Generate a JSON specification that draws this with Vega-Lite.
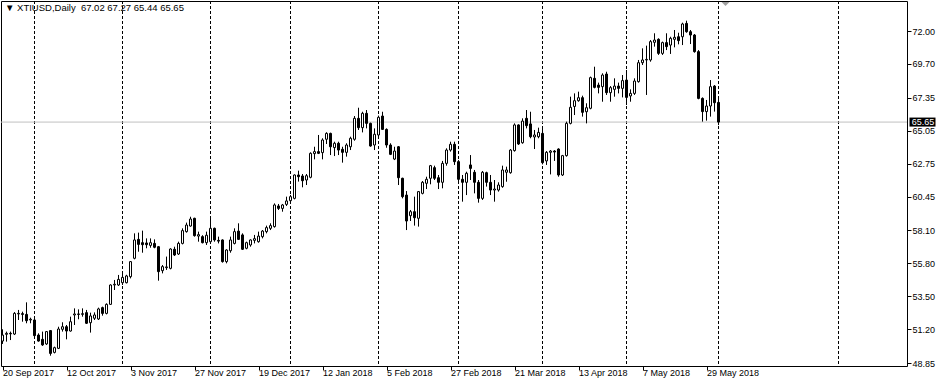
{
  "$schema": "https://vega.github.io/schema/vega-lite/v6.json",
  "width": 906,
  "height": 365,
  "autosize": {"type": "none"},
  "padding": {"left": 1, "top": 1, "right": 37, "bottom": 14},
  "background": "white",
  "title": {"text": "▼ XTIUSD,Daily\u00a0 67.02 67.27 65.44 65.65", "anchor": "start", "orient": "top", "frame": "group", "offset": -12, "dx": 4, "font": "Liberation Sans", "fontSize": 9.5, "fontWeight": "normal", "color": "black"},
  "config": {
    "view": {"stroke": "black", "strokeWidth": 1},
    "axis": {"labelFont": "Liberation Sans", "labelFontSize": 9, "labelColor": "black", "tickColor": "black", "domain": false, "grid": false}
  },
  "datasets": {
    "seps": [{"i": 8}, {"i": 30}, {"i": 52}, {"i": 72}, {"i": 94}, {"i": 114}, {"i": 135}, {"i": 156}, {"i": 179}, {"i": 209}],
    "bid": [{"p": 65.65}],
    "one": [{}],
    "candles": [
      {"i":0,"o":50.38,"h":51.20,"l":50.18,"c":50.80},
      {"i":1,"o":50.85,"h":51.04,"l":50.34,"c":50.92},
      {"i":2,"o":50.92,"h":51.04,"l":50.45,"c":50.88},
      {"i":3,"o":50.87,"h":52.40,"l":50.80,"c":52.31},
      {"i":4,"o":52.27,"h":52.55,"l":51.85,"c":52.31},
      {"i":5,"o":52.29,"h":52.43,"l":51.73,"c":52.24},
      {"i":6,"o":52.24,"h":53.08,"l":51.62,"c":51.80},
      {"i":7,"o":51.85,"h":52.01,"l":51.62,"c":51.90},
      {"i":8,"o":51.85,"h":51.97,"l":50.69,"c":50.76},
      {"i":9,"o":50.80,"h":50.92,"l":50.34,"c":50.38},
      {"i":10,"o":50.50,"h":51.04,"l":50.04,"c":50.11},
      {"i":11,"o":50.18,"h":51.08,"l":50.11,"c":51.04},
      {"i":12,"o":51.11,"h":51.15,"l":49.36,"c":49.52},
      {"i":13,"o":49.59,"h":49.99,"l":49.52,"c":49.92},
      {"i":14,"o":49.87,"h":51.38,"l":49.83,"c":51.22},
      {"i":15,"o":51.20,"h":51.69,"l":51.04,"c":51.38},
      {"i":16,"o":51.38,"h":51.50,"l":50.50,"c":51.08},
      {"i":17,"o":51.08,"h":52.08,"l":51.04,"c":51.73},
      {"i":18,"o":52.20,"h":52.66,"l":51.50,"c":52.27},
      {"i":19,"o":52.27,"h":52.59,"l":51.90,"c":52.24},
      {"i":20,"o":52.24,"h":52.66,"l":52.08,"c":52.29},
      {"i":21,"o":52.36,"h":52.55,"l":51.57,"c":51.62},
      {"i":22,"o":51.66,"h":52.36,"l":50.97,"c":52.13},
      {"i":23,"o":51.97,"h":52.38,"l":51.85,"c":52.20},
      {"i":24,"o":51.92,"h":52.71,"l":51.85,"c":52.62},
      {"i":25,"o":52.71,"h":52.78,"l":52.15,"c":52.31},
      {"i":26,"o":52.31,"h":53.01,"l":52.24,"c":52.94},
      {"i":27,"o":52.94,"h":54.34,"l":52.90,"c":54.29},
      {"i":28,"o":54.29,"h":54.64,"l":53.94,"c":54.34},
      {"i":29,"o":54.29,"h":54.99,"l":54.22,"c":54.68},
      {"i":30,"o":54.45,"h":55.10,"l":54.29,"c":54.82},
      {"i":31,"o":54.45,"h":55.00,"l":54.40,"c":54.92},
      {"i":32,"o":54.87,"h":55.96,"l":54.75,"c":55.92},
      {"i":33,"o":56.15,"h":57.89,"l":56.08,"c":57.43},
      {"i":34,"o":57.47,"h":57.94,"l":56.61,"c":57.12},
      {"i":35,"o":57.24,"h":58.08,"l":56.54,"c":57.10},
      {"i":36,"o":57.22,"h":57.54,"l":56.85,"c":57.10},
      {"i":37,"o":57.05,"h":57.54,"l":56.89,"c":57.24},
      {"i":38,"o":57.19,"h":57.47,"l":56.85,"c":56.92},
      {"i":39,"o":56.96,"h":57.01,"l":54.59,"c":55.22},
      {"i":40,"o":55.29,"h":55.68,"l":55.10,"c":55.57},
      {"i":41,"o":55.50,"h":56.27,"l":55.34,"c":55.55},
      {"i":42,"o":55.45,"h":56.85,"l":55.38,"c":56.80},
      {"i":43,"o":56.78,"h":56.96,"l":56.31,"c":56.38},
      {"i":44,"o":56.45,"h":57.31,"l":56.38,"c":57.19},
      {"i":45,"o":57.19,"h":58.24,"l":57.12,"c":58.08},
      {"i":46,"o":58.01,"h":58.64,"l":57.94,"c":58.47},
      {"i":47,"o":58.40,"h":59.05,"l":58.36,"c":58.89},
      {"i":48,"o":58.94,"h":58.98,"l":57.66,"c":57.73},
      {"i":49,"o":57.70,"h":58.01,"l":57.31,"c":57.80},
      {"i":50,"o":57.66,"h":57.76,"l":57.19,"c":57.24},
      {"i":51,"o":57.24,"h":58.01,"l":57.08,"c":57.76},
      {"i":52,"o":57.31,"h":59.05,"l":57.19,"c":58.24},
      {"i":53,"o":58.24,"h":58.29,"l":57.31,"c":57.43},
      {"i":54,"o":57.40,"h":57.66,"l":57.19,"c":57.35},
      {"i":55,"o":57.43,"h":57.47,"l":55.85,"c":55.92},
      {"i":56,"o":55.92,"h":56.78,"l":55.80,"c":56.73},
      {"i":57,"o":56.68,"h":57.66,"l":56.54,"c":57.43},
      {"i":58,"o":57.19,"h":58.24,"l":57.12,"c":58.01},
      {"i":59,"o":58.05,"h":58.59,"l":57.43,"c":57.47},
      {"i":60,"o":57.78,"h":57.89,"l":56.73,"c":56.78},
      {"i":61,"o":56.85,"h":57.31,"l":56.78,"c":57.24},
      {"i":62,"o":57.08,"h":57.47,"l":56.96,"c":57.43},
      {"i":63,"o":57.40,"h":57.78,"l":57.19,"c":57.52},
      {"i":64,"o":57.31,"h":58.01,"l":57.24,"c":57.70},
      {"i":65,"o":57.66,"h":58.12,"l":57.54,"c":58.05},
      {"i":66,"o":58.01,"h":58.43,"l":57.89,"c":58.29},
      {"i":67,"o":58.24,"h":58.59,"l":58.12,"c":58.43},
      {"i":68,"o":58.36,"h":59.98,"l":58.29,"c":59.87},
      {"i":69,"o":59.80,"h":59.94,"l":59.52,"c":59.63},
      {"i":70,"o":59.63,"h":59.94,"l":59.40,"c":59.87},
      {"i":71,"o":59.91,"h":60.45,"l":59.80,"c":60.15},
      {"i":72,"o":60.17,"h":60.57,"l":60.10,"c":60.45},
      {"i":73,"o":60.33,"h":62.00,"l":60.26,"c":61.96},
      {"i":74,"o":61.96,"h":62.26,"l":61.50,"c":61.84},
      {"i":75,"o":61.89,"h":62.03,"l":61.10,"c":61.56},
      {"i":76,"o":61.61,"h":62.03,"l":61.26,"c":61.91},
      {"i":77,"o":61.80,"h":63.54,"l":61.73,"c":63.47},
      {"i":78,"o":63.45,"h":63.93,"l":63.05,"c":63.59},
      {"i":79,"o":63.59,"h":64.75,"l":63.42,"c":63.47},
      {"i":80,"o":63.52,"h":64.52,"l":63.05,"c":64.40},
      {"i":81,"o":64.45,"h":64.94,"l":64.12,"c":64.86},
      {"i":82,"o":64.86,"h":64.91,"l":63.35,"c":63.93},
      {"i":83,"o":63.87,"h":64.28,"l":63.28,"c":64.17},
      {"i":84,"o":64.17,"h":64.28,"l":63.35,"c":63.70},
      {"i":85,"o":63.75,"h":63.93,"l":62.82,"c":63.54},
      {"i":86,"o":63.54,"h":64.17,"l":63.24,"c":64.05},
      {"i":87,"o":63.93,"h":64.63,"l":63.70,"c":64.52},
      {"i":88,"o":64.45,"h":66.07,"l":64.35,"c":65.91},
      {"i":89,"o":65.91,"h":66.65,"l":65.10,"c":65.26},
      {"i":90,"o":65.26,"h":66.37,"l":64.93,"c":66.26},
      {"i":91,"o":66.26,"h":66.49,"l":65.21,"c":65.56},
      {"i":92,"o":65.56,"h":65.61,"l":63.93,"c":63.98},
      {"i":93,"o":64.05,"h":65.21,"l":63.70,"c":64.80},
      {"i":94,"o":64.75,"h":66.10,"l":64.63,"c":65.98},
      {"i":95,"o":66.07,"h":66.37,"l":65.10,"c":65.14},
      {"i":96,"o":65.14,"h":65.21,"l":63.86,"c":64.05},
      {"i":97,"o":64.05,"h":64.17,"l":63.35,"c":63.40},
      {"i":98,"o":63.07,"h":63.93,"l":63.00,"c":63.63},
      {"i":99,"o":63.93,"h":63.98,"l":61.26,"c":61.77},
      {"i":100,"o":61.73,"h":61.77,"l":60.33,"c":60.45},
      {"i":101,"o":60.56,"h":60.84,"l":58.12,"c":58.75},
      {"i":102,"o":59.12,"h":59.52,"l":58.75,"c":59.40},
      {"i":103,"o":59.40,"h":60.45,"l":58.43,"c":58.98},
      {"i":104,"o":58.94,"h":60.84,"l":58.36,"c":60.80},
      {"i":105,"o":60.68,"h":61.54,"l":60.61,"c":61.45},
      {"i":106,"o":61.38,"h":61.84,"l":60.98,"c":61.66},
      {"i":107,"o":61.73,"h":62.66,"l":61.31,"c":62.61},
      {"i":108,"o":62.47,"h":62.61,"l":61.61,"c":61.73},
      {"i":109,"o":61.77,"h":61.96,"l":60.98,"c":61.45},
      {"i":110,"o":61.45,"h":62.94,"l":61.03,"c":62.77},
      {"i":111,"o":62.77,"h":63.82,"l":62.61,"c":63.70},
      {"i":112,"o":63.70,"h":64.28,"l":63.59,"c":64.10},
      {"i":113,"o":64.10,"h":64.28,"l":62.66,"c":62.89},
      {"i":114,"o":62.89,"h":63.00,"l":61.38,"c":61.66},
      {"i":115,"o":61.66,"h":61.96,"l":60.10,"c":61.45},
      {"i":116,"o":61.45,"h":62.19,"l":60.56,"c":62.08},
      {"i":117,"o":62.66,"h":63.35,"l":61.61,"c":62.42},
      {"i":118,"o":62.15,"h":62.31,"l":60.68,"c":61.45},
      {"i":119,"o":61.45,"h":61.61,"l":60.03,"c":60.33},
      {"i":120,"o":60.33,"h":62.24,"l":60.22,"c":62.15},
      {"i":121,"o":62.12,"h":62.19,"l":61.15,"c":61.45},
      {"i":122,"o":61.45,"h":61.96,"l":60.56,"c":60.91},
      {"i":123,"o":60.91,"h":61.61,"l":60.10,"c":60.98},
      {"i":124,"o":60.91,"h":61.45,"l":60.80,"c":61.26},
      {"i":125,"o":61.15,"h":62.61,"l":61.07,"c":62.31},
      {"i":126,"o":62.15,"h":62.54,"l":61.49,"c":62.31},
      {"i":127,"o":62.12,"h":63.77,"l":62.05,"c":63.70},
      {"i":128,"o":63.66,"h":65.56,"l":63.59,"c":65.45},
      {"i":129,"o":65.45,"h":65.49,"l":64.05,"c":64.12},
      {"i":130,"o":64.21,"h":65.91,"l":64.14,"c":65.72},
      {"i":131,"o":65.91,"h":66.49,"l":65.21,"c":65.40},
      {"i":132,"o":65.52,"h":66.37,"l":64.52,"c":64.63},
      {"i":133,"o":64.61,"h":65.10,"l":63.77,"c":64.75},
      {"i":134,"o":64.63,"h":65.26,"l":64.52,"c":64.93},
      {"i":135,"o":64.86,"h":65.21,"l":62.70,"c":62.82},
      {"i":136,"o":62.94,"h":63.63,"l":62.66,"c":63.54},
      {"i":137,"o":63.54,"h":63.70,"l":62.00,"c":63.63},
      {"i":138,"o":63.63,"h":63.70,"l":62.94,"c":63.56},
      {"i":139,"o":63.77,"h":63.82,"l":61.84,"c":61.96},
      {"i":140,"o":61.96,"h":63.36,"l":61.89,"c":63.31},
      {"i":141,"o":63.31,"h":65.68,"l":63.24,"c":65.56},
      {"i":142,"o":65.56,"h":67.42,"l":65.49,"c":66.68},
      {"i":143,"o":66.74,"h":67.65,"l":66.14,"c":67.14},
      {"i":144,"o":67.14,"h":67.77,"l":67.07,"c":67.35},
      {"i":145,"o":67.35,"h":67.49,"l":66.03,"c":66.33},
      {"i":146,"o":66.37,"h":66.96,"l":65.56,"c":66.65},
      {"i":147,"o":66.61,"h":68.82,"l":66.54,"c":68.75},
      {"i":148,"o":68.70,"h":69.51,"l":68.00,"c":68.07},
      {"i":149,"o":68.23,"h":68.40,"l":67.65,"c":68.07},
      {"i":150,"o":68.12,"h":69.05,"l":67.07,"c":68.93},
      {"i":151,"o":69.00,"h":69.16,"l":67.54,"c":67.70},
      {"i":152,"o":67.70,"h":68.16,"l":67.07,"c":68.05},
      {"i":153,"o":67.93,"h":68.70,"l":67.42,"c":68.16},
      {"i":154,"o":68.16,"h":68.40,"l":67.65,"c":68.00},
      {"i":155,"o":68.00,"h":68.93,"l":67.37,"c":68.54},
      {"i":156,"o":68.58,"h":69.28,"l":66.84,"c":67.37},
      {"i":157,"o":67.47,"h":67.93,"l":67.07,"c":67.65},
      {"i":158,"o":67.65,"h":68.70,"l":67.54,"c":68.51},
      {"i":159,"o":68.47,"h":69.98,"l":68.40,"c":69.79},
      {"i":160,"o":69.79,"h":70.79,"l":69.63,"c":69.98},
      {"i":161,"o":69.98,"h":70.98,"l":67.54,"c":70.02},
      {"i":162,"o":69.98,"h":71.37,"l":69.86,"c":71.26},
      {"i":163,"o":71.21,"h":71.84,"l":70.91,"c":71.37},
      {"i":164,"o":71.42,"h":71.49,"l":70.33,"c":70.44},
      {"i":165,"o":70.44,"h":71.26,"l":70.33,"c":71.19},
      {"i":166,"o":71.19,"h":71.84,"l":70.67,"c":70.91},
      {"i":167,"o":71.02,"h":71.60,"l":70.40,"c":71.49},
      {"i":168,"o":71.42,"h":72.07,"l":70.86,"c":71.56},
      {"i":169,"o":71.60,"h":71.88,"l":71.07,"c":71.33},
      {"i":170,"o":71.60,"h":72.58,"l":71.02,"c":72.49},
      {"i":171,"o":72.53,"h":72.72,"l":71.88,"c":71.95},
      {"i":172,"o":71.95,"h":72.07,"l":71.09,"c":71.72},
      {"i":173,"o":71.72,"h":71.79,"l":70.49,"c":70.56},
      {"i":174,"o":70.56,"h":70.67,"l":67.24,"c":67.30},
      {"i":175,"o":67.30,"h":67.37,"l":65.68,"c":66.38},
      {"i":176,"o":66.38,"h":67.19,"l":65.75,"c":66.77},
      {"i":177,"o":66.77,"h":68.58,"l":66.03,"c":68.12},
      {"i":178,"o":68.16,"h":68.23,"l":66.38,"c":67.00},
      {"i":179,"o":67.02,"h":67.27,"l":65.44,"c":65.65}
    ]
  },
  "layer": [
    {
      "data": {"name": "seps"},
      "mark": {"type": "rule", "color": "black", "strokeWidth": 1, "strokeDash": [3, 2]},
      "encoding": {
        "x": {"field": "i", "type": "quantitative", "scale": {"domain": [-0.375, 226.125], "nice": false, "zero": false, "padding": 0},
          "axis": {"values": [0, 16, 32, 48, 64, 80, 96, 112, 128, 144, 160, 176], "labelExpr": "['20 Sep 2017','12 Oct 2017','3 Nov 2017','27 Nov 2017','19 Dec 2017','12 Jan 2018','5 Feb 2018','27 Feb 2018','21 Mar 2018','13 Apr 2018','7 May 2018','29 May 2018'][round(datum.value/16)]", "labelAlign": "left", "labelBaseline": "top", "tickSize": 4, "labelPadding": -2, "labelOverlap": false, "labelFlush": false, "title": null}}
      }
    },
    {
      "data": {"name": "bid"},
      "mark": {"type": "rule", "color": "#c0c0c0", "strokeWidth": 1},
      "encoding": {
        "y": {"field": "p", "type": "quantitative", "scale": {"domain": [48.641, 74.092], "nice": false, "zero": false, "padding": 0},
          "axis": {"orient": "right", "values": [48.85, 51.2, 53.5, 55.8, 58.1, 60.45, 62.75, 65.05, 67.35, 69.7, 72], "format": ".2f", "tickSize": 4, "labelPadding": 1, "title": null}}
      }
    },
    {
      "data": {"name": "candles"},
      "mark": {"type": "rule", "color": "black", "strokeWidth": 1},
      "encoding": {
        "x": {"field": "i", "type": "quantitative", "scale": {"domain": [-0.375, 226.125], "nice": false, "zero": false, "padding": 0},
          "axis": {"values": [0, 16, 32, 48, 64, 80, 96, 112, 128, 144, 160, 176], "labelExpr": "['20 Sep 2017','12 Oct 2017','3 Nov 2017','27 Nov 2017','19 Dec 2017','12 Jan 2018','5 Feb 2018','27 Feb 2018','21 Mar 2018','13 Apr 2018','7 May 2018','29 May 2018'][round(datum.value/16)]", "labelAlign": "left", "labelBaseline": "top", "tickSize": 4, "labelPadding": -2, "labelOverlap": false, "labelFlush": false, "title": null}},
        "y": {"field": "l", "type": "quantitative", "scale": {"domain": [48.641, 74.092], "nice": false, "zero": false, "padding": 0},
          "axis": {"orient": "right", "values": [48.85, 51.2, 53.5, 55.8, 58.1, 60.45, 62.75, 65.05, 67.35, 69.7, 72], "format": ".2f", "tickSize": 4, "labelPadding": 1, "title": null}},
        "y2": {"field": "h"}
      }
    },
    {
      "data": {"name": "candles"},
      "mark": {"type": "bar", "size": 2, "stroke": "black", "strokeWidth": 1},
      "encoding": {
        "x": {"field": "i", "type": "quantitative", "scale": {"domain": [-0.375, 226.125], "nice": false, "zero": false, "padding": 0},
          "axis": {"values": [0, 16, 32, 48, 64, 80, 96, 112, 128, 144, 160, 176], "labelExpr": "['20 Sep 2017','12 Oct 2017','3 Nov 2017','27 Nov 2017','19 Dec 2017','12 Jan 2018','5 Feb 2018','27 Feb 2018','21 Mar 2018','13 Apr 2018','7 May 2018','29 May 2018'][round(datum.value/16)]", "labelAlign": "left", "labelBaseline": "top", "tickSize": 4, "labelPadding": -2, "labelOverlap": false, "labelFlush": false, "title": null}},
        "y": {"field": "o", "type": "quantitative", "scale": {"domain": [48.641, 74.092], "nice": false, "zero": false, "padding": 0},
          "axis": {"orient": "right", "values": [48.85, 51.2, 53.5, 55.8, 58.1, 60.45, 62.75, 65.05, 67.35, 69.7, 72], "format": ".2f", "tickSize": 4, "labelPadding": 1, "title": null}},
        "y2": {"field": "c"},
        "fill": {"condition": {"test": "datum.c < datum.o", "value": "black"}, "value": "white"}
      }
    },
    {
      "data": {"name": "one"},
      "mark": {"type": "point", "shape": "M-1,-0.5L1,-0.5L0,0.5Z", "filled": true, "color": "#a0a0a0", "size": 64, "opacity": 1},
      "encoding": {
        "x": {"datum": 180.75, "type": "quantitative", "scale": {"domain": [-0.375, 226.125], "nice": false, "zero": false, "padding": 0},
          "axis": {"values": [0, 16, 32, 48, 64, 80, 96, 112, 128, 144, 160, 176], "labelExpr": "['20 Sep 2017','12 Oct 2017','3 Nov 2017','27 Nov 2017','19 Dec 2017','12 Jan 2018','5 Feb 2018','27 Feb 2018','21 Mar 2018','13 Apr 2018','7 May 2018','29 May 2018'][round(datum.value/16)]", "labelAlign": "left", "labelBaseline": "top", "tickSize": 4, "labelPadding": -2, "labelOverlap": false, "labelFlush": false, "title": null}},
        "y": {"datum": 73.883, "type": "quantitative", "scale": {"domain": [48.641, 74.092], "nice": false, "zero": false, "padding": 0},
          "axis": {"orient": "right", "values": [48.85, 51.2, 53.5, 55.8, 58.1, 60.45, 62.75, 65.05, 67.35, 69.7, 72], "format": ".2f", "tickSize": 4, "labelPadding": 1, "title": null}}
      }
    },
    {
      "data": {"name": "one"},
      "mark": {"type": "rect", "color": "black"},
      "encoding": {
        "x": {"datum": 226.75, "type": "quantitative", "scale": {"domain": [-0.375, 226.125], "nice": false, "zero": false, "padding": 0},
          "axis": {"values": [0, 16, 32, 48, 64, 80, 96, 112, 128, 144, 160, 176], "labelExpr": "['20 Sep 2017','12 Oct 2017','3 Nov 2017','27 Nov 2017','19 Dec 2017','12 Jan 2018','5 Feb 2018','27 Feb 2018','21 Mar 2018','13 Apr 2018','7 May 2018','29 May 2018'][round(datum.value/16)]", "labelAlign": "left", "labelBaseline": "top", "tickSize": 4, "labelPadding": -2, "labelOverlap": false, "labelFlush": false, "title": null}},
        "x2": {"datum": 233.25},
        "y": {"datum": 65.336, "type": "quantitative", "scale": {"domain": [48.641, 74.092], "nice": false, "zero": false, "padding": 0},
          "axis": {"orient": "right", "values": [48.85, 51.2, 53.5, 55.8, 58.1, 60.45, 62.75, 65.05, 67.35, 69.7, 72], "format": ".2f", "tickSize": 4, "labelPadding": 1, "title": null}},
        "y2": {"datum": 65.964}
      }
    },
    {
      "data": {"name": "one"},
      "mark": {"type": "text", "text": "65.65", "color": "white", "align": "left", "baseline": "middle", "font": "Liberation Sans", "fontSize": 9},
      "encoding": {
        "x": {"datum": 227.3, "type": "quantitative", "scale": {"domain": [-0.375, 226.125], "nice": false, "zero": false, "padding": 0},
          "axis": {"values": [0, 16, 32, 48, 64, 80, 96, 112, 128, 144, 160, 176], "labelExpr": "['20 Sep 2017','12 Oct 2017','3 Nov 2017','27 Nov 2017','19 Dec 2017','12 Jan 2018','5 Feb 2018','27 Feb 2018','21 Mar 2018','13 Apr 2018','7 May 2018','29 May 2018'][round(datum.value/16)]", "labelAlign": "left", "labelBaseline": "top", "tickSize": 4, "labelPadding": -2, "labelOverlap": false, "labelFlush": false, "title": null}},
        "y": {"datum": 65.65, "type": "quantitative", "scale": {"domain": [48.641, 74.092], "nice": false, "zero": false, "padding": 0},
          "axis": {"orient": "right", "values": [48.85, 51.2, 53.5, 55.8, 58.1, 60.45, 62.75, 65.05, 67.35, 69.7, 72], "format": ".2f", "tickSize": 4, "labelPadding": 1, "title": null}}
      }
    }
  ]
}
